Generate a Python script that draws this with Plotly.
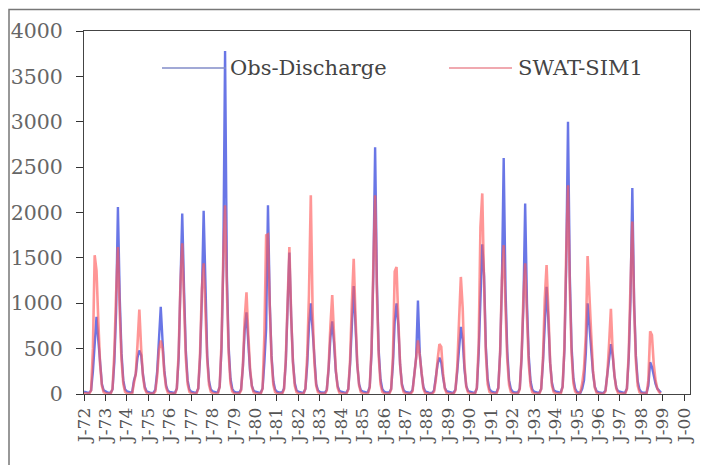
import pandas as pd
import plotly.graph_objects as go

# Monthly series, Jan 1972 - Dec 1998 (one row per year: Jan..Dec)
months = pd.date_range("1972-01-01", periods=27 * 12, freq="MS")

obs_discharge = [
    25, 18, 15, 15, 40, 250, 560, 850, 590, 300, 110, 40,        # 1972
    25, 18, 15, 15, 50, 350, 900, 2060, 1060, 450, 150, 50,      # 1973
    30, 22, 18, 20, 150, 220, 400, 480, 430, 220, 80, 30,        # 1974
    20, 15, 12, 15, 50, 250, 600, 960, 580, 260, 90, 35,         # 1975
    22, 16, 14, 15, 60, 400, 1100, 1990, 1150, 480, 150, 50,     # 1976
    25, 18, 15, 16, 60, 400, 1050, 2020, 1050, 420, 140, 50,     # 1977
    30, 22, 18, 20, 80, 500, 1400, 3780, 1300, 520, 170, 60,     # 1978
    25, 18, 15, 16, 50, 300, 700, 900, 560, 250, 90, 35,         # 1979
    25, 18, 15, 16, 60, 350, 720, 2080, 1000, 420, 140, 50,      # 1980
    25, 18, 15, 16, 60, 350, 950, 1560, 850, 360, 120, 40,       # 1981
    25, 18, 15, 16, 55, 320, 750, 1000, 700, 300, 110, 40,       # 1982
    22, 16, 14, 15, 50, 280, 620, 800, 560, 250, 90, 35,         # 1983
    25, 18, 15, 16, 55, 330, 850, 1190, 750, 320, 110, 40,       # 1984
    30, 22, 18, 20, 80, 450, 1300, 2720, 1200, 480, 160, 55,     # 1985
    25, 18, 15, 16, 55, 330, 800, 1000, 750, 320, 110, 40,       # 1986
    22, 16, 14, 15, 45, 220, 400, 1030, 450, 230, 80, 30,        # 1987
    20, 15, 12, 14, 40, 180, 330, 400, 350, 190, 70, 30,         # 1988
    22, 16, 14, 15, 50, 250, 550, 740, 600, 280, 90, 35,         # 1989
    25, 18, 15, 16, 60, 450, 1100, 1650, 1300, 520, 160, 55,     # 1990
    28, 20, 16, 18, 70, 450, 1200, 2600, 1150, 470, 150, 55,     # 1991
    25, 18, 15, 16, 60, 400, 950, 2100, 1000, 420, 140, 50,      # 1992
    25, 18, 15, 16, 55, 350, 850, 1180, 800, 340, 120, 40,       # 1993
    30, 22, 18, 20, 80, 480, 1400, 3000, 1300, 520, 170, 60,     # 1994
    22, 16, 14, 60, 150, 450, 1000, 750, 480, 230, 80, 30,       # 1995
    20, 15, 12, 14, 40, 220, 420, 550, 420, 200, 70, 30,         # 1996
    25, 18, 15, 16, 60, 400, 1050, 2270, 1000, 420, 140, 50,     # 1997
    20, 15, 12, 14, 90, 350, 300, 180, 110, 60, 30, 15,          # 1998
]

swat_sim1 = [
    8, 5, 4, 4, 40, 500, 1530, 1360, 800, 330, 90, 20,           # 1972
    8, 5, 4, 4, 60, 450, 1100, 1620, 900, 380, 110, 25,          # 1973
    8, 5, 4, 4, 120, 220, 550, 930, 500, 200, 60, 15,            # 1974
    6, 4, 3, 4, 30, 200, 480, 590, 500, 230, 70, 15,             # 1975
    8, 5, 4, 4, 60, 450, 1200, 1660, 1000, 400, 110, 25,         # 1976
    8, 5, 4, 4, 60, 450, 1150, 1440, 900, 380, 100, 25,          # 1977
    9, 6, 5, 5, 80, 550, 1500, 2080, 1150, 450, 120, 30,         # 1978
    8, 5, 4, 4, 40, 320, 820, 1120, 650, 280, 80, 18,            # 1979
    8, 5, 4, 4, 60, 650, 1750, 1760, 950, 380, 100, 22,          # 1980
    8, 5, 4, 4, 50, 380, 1000, 1620, 850, 340, 90, 20,           # 1981
    8, 5, 4, 4, 60, 420, 1100, 2190, 900, 350, 90, 20,           # 1982
    8, 5, 4, 4, 40, 300, 750, 1090, 650, 270, 70, 15,            # 1983
    8, 5, 4, 4, 50, 380, 1000, 1490, 850, 330, 90, 20,           # 1984
    9, 6, 5, 5, 70, 500, 1400, 2190, 1100, 420, 110, 25,         # 1985
    8, 5, 4, 4, 50, 420, 1350, 1400, 800, 320, 90, 20,           # 1986
    6, 4, 3, 4, 30, 200, 380, 590, 420, 200, 60, 12,             # 1987
    6, 4, 3, 4, 25, 160, 380, 550, 520, 230, 60, 12,             # 1988
    8, 5, 4, 4, 40, 300, 800, 1290, 950, 330, 80, 18,            # 1989
    8, 5, 4, 4, 70, 550, 1840, 2210, 1200, 450, 110, 25,         # 1990
    8, 5, 4, 4, 60, 450, 1250, 1640, 950, 380, 100, 22,          # 1991
    8, 5, 4, 4, 55, 420, 1050, 1440, 850, 340, 90, 20,           # 1992
    8, 5, 4, 4, 55, 400, 1050, 1420, 900, 350, 90, 20,           # 1993
    9, 6, 5, 5, 80, 520, 1550, 2300, 1150, 450, 120, 28,         # 1994
    6, 4, 20, 120, 280, 650, 1520, 1000, 650, 260, 70, 15,       # 1995
    6, 4, 3, 4, 30, 220, 550, 940, 450, 200, 60, 12,             # 1996
    8, 5, 4, 4, 55, 450, 1200, 1900, 950, 360, 90, 20,           # 1997
    6, 4, 3, 4, 150, 690, 650, 330, 150, 60, 20, 5,              # 1998
]

y_ticks = [0, 500, 1000, 1500, 2000, 2500, 3000, 3500, 4000]
series_names = ["Obs-Discharge", "SWAT-SIM1"]

BLUE = "rgb(105,118,230)"
RED = "rgba(255,90,90,0.64)"
FONT = "DejaVu Serif"

# The page body adds an 8px offset, so the figure is sized to the remaining view.
OFF = 8
W, H = 708 - OFF, 465 - OFF
L, R, T, B = 84 - OFF, 18, 31 - OFF, 71
pw, ph = W - L - R, H - T - B


def px(xw):
    return (xw - OFF - L) / pw


def py(yw):
    return (H - B - (yw - OFF)) / ph


fig = go.Figure()
fig.add_trace(go.Scatter(x=months, y=obs_discharge, mode="lines",
                         name=series_names[0],
                         line=dict(color=BLUE, width=2.4)))
fig.add_trace(go.Scatter(x=months, y=swat_sim1, mode="lines",
                         name=series_names[1],
                         line=dict(color=RED, width=2.6)))

# Manual legend inside the plot
legend_items = [
    (series_names[0], "rgb(130,140,200)", 162, 226, 228),
    (series_names[1], "rgb(235,140,150)", 449, 512, 516),
]
shapes = []
annotations = []
for name, col, lx0, lx1, tx in legend_items:
    shapes.append(dict(type="line", xref="paper", yref="paper",
                       x0=px(lx0), x1=px(lx1), y0=py(68), y1=py(68),
                       line=dict(color=col, width=1.5)))
    annotations.append(dict(text=name, xref="paper", yref="paper",
                            x=px(tx), y=py(68), xanchor="left", yanchor="middle",
                            showarrow=False,
                            font=dict(family=FONT, size=21, color="#444")))

# Outer chart frame (partially cropped in the reference)
shapes.append(dict(type="rect", xref="paper", yref="paper",
                   x0=px(9), x1=px(760), y0=py(480), y1=py(9.5),
                   line=dict(color="#777", width=1.5), layer="below"))

fig.update_layout(
    width=W, height=H,
    margin=dict(l=L, r=R, t=T, b=B, autoexpand=False),
    paper_bgcolor="white", plot_bgcolor="white",
    showlegend=False,
    shapes=shapes, annotations=annotations,
    xaxis=dict(
        type="date",
        automargin=False,
        range=["1972-01-01", "2000-04-10"],
        tick0="1972-01-01", dtick="M12", tickformat="J-%y",
        tickangle=-90,
        ticks="outside", ticklen=6, tickcolor="#333", tickwidth=1,
        showline=True, linecolor="#444", linewidth=1, mirror=True,
        showgrid=False, zeroline=False,
        tickfont=dict(family=FONT, size=17, color="#555"),
    ),
    yaxis=dict(
        automargin=False,
        range=[0, 4000],
        tickvals=y_ticks,
        ticks="outside", ticklen=7, tickcolor="#333", tickwidth=1,
        ticklabelstandoff=9,
        showline=True, linecolor="#444", linewidth=1, mirror=True,
        showgrid=False, zeroline=False,
        tickfont=dict(family=FONT, size=20.5, color="#666"),
    ),
)

fig.write_html("out.html")
